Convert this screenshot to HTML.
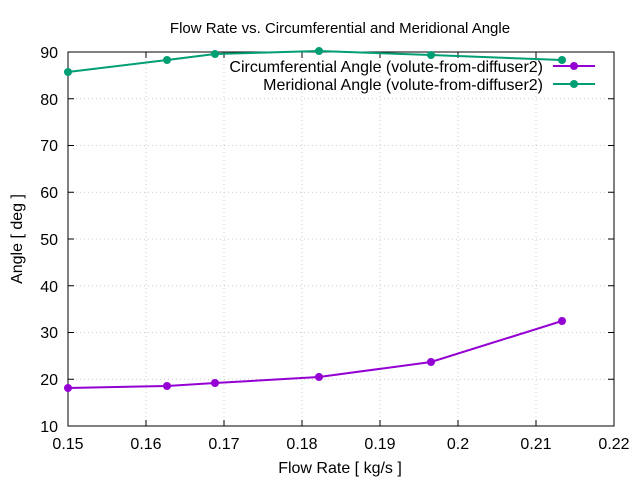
<!DOCTYPE html>
<html><head><meta charset="utf-8"><style>
html,body{margin:0;padding:0;background:#fff;}
svg{display:block;font-family:"Liberation Sans",sans-serif;}
</style></head><body>
<svg width="640" height="480" viewBox="0 0 640 480">
<rect width="640" height="480" fill="#fff"/>
<g stroke="#ccc" stroke-width="1" stroke-dasharray="1,3">
<line x1="146" y1="52" x2="146" y2="426"/><line x1="224" y1="52" x2="224" y2="426"/>
<line x1="302" y1="52" x2="302" y2="426"/><line x1="380" y1="52" x2="380" y2="426"/>
<line x1="458" y1="52" x2="458" y2="426"/><line x1="536" y1="52" x2="536" y2="426"/>
<line x1="68" y1="379.25" x2="614" y2="379.25"/><line x1="68" y1="332.5" x2="614" y2="332.5"/>
<line x1="68" y1="285.75" x2="614" y2="285.75"/><line x1="68" y1="239" x2="614" y2="239"/>
<line x1="68" y1="192.25" x2="614" y2="192.25"/><line x1="68" y1="145.5" x2="614" y2="145.5"/>
<line x1="68" y1="98.75" x2="614" y2="98.75"/>
</g>
<rect x="68" y="52" width="546" height="374" fill="none" stroke="#000" stroke-width="1"/>
<g stroke="#000">
<line x1="68" y1="379.25" x2="74" y2="379.25"/><line x1="68" y1="332.5" x2="74" y2="332.5"/>
<line x1="68" y1="285.75" x2="74" y2="285.75"/><line x1="68" y1="239" x2="74" y2="239"/>
<line x1="68" y1="192.25" x2="74" y2="192.25"/><line x1="68" y1="145.5" x2="74" y2="145.5"/>
<line x1="68" y1="98.75" x2="74" y2="98.75"/>
<line x1="614" y1="379.25" x2="608" y2="379.25"/><line x1="614" y1="332.5" x2="608" y2="332.5"/>
<line x1="614" y1="285.75" x2="608" y2="285.75"/><line x1="614" y1="239" x2="608" y2="239"/>
<line x1="614" y1="192.25" x2="608" y2="192.25"/><line x1="614" y1="145.5" x2="608" y2="145.5"/>
<line x1="614" y1="98.75" x2="608" y2="98.75"/>
<line x1="146" y1="426" x2="146" y2="420"/><line x1="224" y1="426" x2="224" y2="420"/>
<line x1="302" y1="426" x2="302" y2="420"/><line x1="380" y1="426" x2="380" y2="420"/>
<line x1="458" y1="426" x2="458" y2="420"/><line x1="536" y1="426" x2="536" y2="420"/>
<line x1="146" y1="52" x2="146" y2="58"/><line x1="224" y1="52" x2="224" y2="58"/>
<line x1="302" y1="52" x2="302" y2="58"/><line x1="380" y1="52" x2="380" y2="58"/>
<line x1="458" y1="52" x2="458" y2="58"/><line x1="536" y1="52" x2="536" y2="58"/>
</g>
<g font-size="16" fill="#000" text-anchor="end">
<text x="58" y="432">10</text><text x="58" y="385">20</text><text x="58" y="338">30</text>
<text x="58" y="292">40</text><text x="58" y="245">50</text><text x="58" y="198">60</text>
<text x="58" y="151">70</text><text x="58" y="105">80</text><text x="58" y="58">90</text>
</g>
<g font-size="16" fill="#000" text-anchor="middle">
<text x="68" y="449">0.15</text><text x="146" y="449">0.16</text><text x="224" y="449">0.17</text>
<text x="302" y="449">0.18</text><text x="380" y="449">0.19</text><text x="458" y="449">0.2</text>
<text x="536" y="449">0.21</text><text x="614" y="449">0.22</text>
<text x="340" y="473">Flow Rate [ kg/s ]</text>
<text x="340" y="33" font-size="15">Flow Rate vs. Circumferential and Meridional Angle</text>
<text transform="translate(22,239) rotate(-90)">Angle [ deg ]</text>
</g>
<g font-size="16" fill="#000" text-anchor="end">
<text x="543" y="72">Circumferential Angle (volute-from-diffuser2)</text>
<text x="543" y="90">Meridional Angle (volute-from-diffuser2)</text>
</g>
<line x1="553" y1="66" x2="595" y2="66" stroke="#9400d3" stroke-width="2"/>
<circle cx="574" cy="66" r="4" fill="#9400d3"/>
<line x1="553" y1="84" x2="595" y2="84" stroke="#009e73" stroke-width="2"/>
<circle cx="574" cy="84" r="4" fill="#009e73"/>
<polyline fill="none" stroke="#9400d3" stroke-width="2" points="68,388 167,386 215,383 319,377 431,362 562,321"/>
<g fill="#9400d3"><circle cx="68" cy="388" r="4"/><circle cx="167" cy="386" r="4"/><circle cx="215" cy="383" r="4"/><circle cx="319" cy="377" r="4"/><circle cx="431" cy="362" r="4"/><circle cx="562" cy="321" r="4"/></g>
<polyline fill="none" stroke="#009e73" stroke-width="2" points="68,72 167,60 215,54 319,51 431,55 562,60"/>
<g fill="#009e73"><circle cx="68" cy="72" r="4"/><circle cx="167" cy="60" r="4"/><circle cx="215" cy="54" r="4"/><circle cx="319" cy="51" r="4"/><circle cx="431" cy="55" r="4"/><circle cx="562" cy="60" r="4"/></g>
</svg>
</body></html>
